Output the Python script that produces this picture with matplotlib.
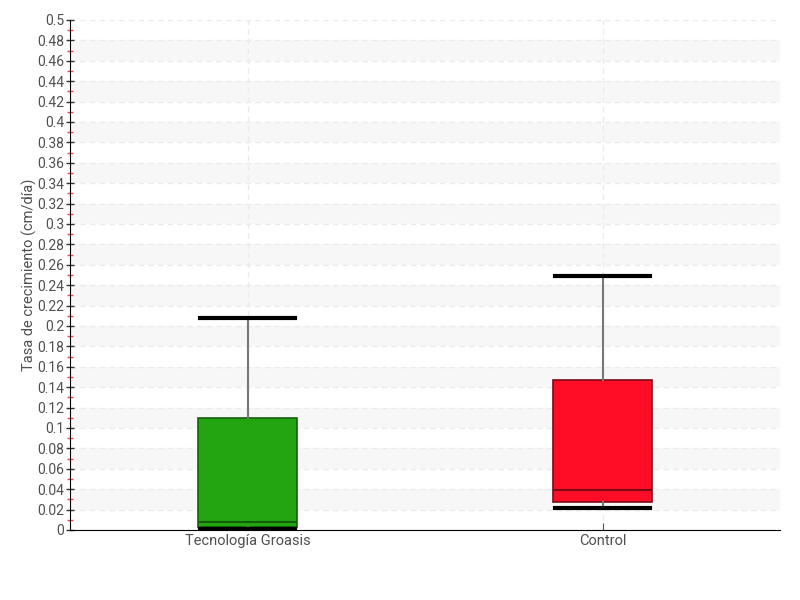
import matplotlib.pyplot as plt
from matplotlib import font_manager
from matplotlib.ticker import MultipleLocator, FuncFormatter

# datos
categorias = ['Tecnología Groasis', 'Control']
minimos = [0.001, 0.0215]
q1 = [0.003, 0.0275]
medianas = [0.008, 0.039]
q3 = [0.110, 0.147]
maximos = [0.208, 0.249]
colores = ['#22a511', '#ff0d27']
bordes = ['#14600a', '#7a0a14']

names = {f.name for f in font_manager.fontManager.ttflist}
fam = 'Liberation Sans Narrow' if 'Liberation Sans Narrow' in names else 'Roboto'
plt.rcParams['font.family'] = [fam, 'DejaVu Sans']

fig = plt.figure(figsize=(8, 6), dpi=100)
ax = fig.add_axes([0.0875, 0.1167, 0.8875, 0.85])

stats = []
for i in range(len(categorias)):
    stats.append(dict(whislo=minimos[i], q1=q1[i], med=medianas[i], q3=q3[i],
                      whishi=maximos[i], label=categorias[i], fliers=[]))

bp = ax.bxp(stats, positions=range(len(categorias)), widths=0.28,
            patch_artist=True, showfliers=False, zorder=3,
            whiskerprops=dict(color='#777777', lw=1.5),
            capprops=dict(color='black', lw=3),
            capwidths=0.27)
for i, b in enumerate(bp['boxes']):
    b.set_facecolor(colores[i])
    b.set_edgecolor(bordes[i])
    b.set_linewidth(1.2)
for i, m in enumerate(bp['medians']):
    m.set_color(bordes[i])
    m.set_linewidth(1.5)

ax.set_xlim(-0.5, 1.5)
ax.set_ylim(0, 0.5)

# franjas alternas
for k in range(1, 25, 2):
    ax.axhspan(k * 0.02, (k + 1) * 0.02, color='#f7f7f7', zorder=0, lw=0)

ax.yaxis.set_major_locator(MultipleLocator(0.02))
ax.yaxis.set_minor_locator(MultipleLocator(0.01))
ax.yaxis.set_major_formatter(FuncFormatter(lambda v, p: f'{v:.2f}'.rstrip('0').rstrip('.') if v else '0'))
ax.grid(True, which='major', axis='both', ls=(0, (4, 3)), color='#ebebeb', lw=1, zorder=1)

ax.tick_params(axis='y', which='major', direction='inout', length=6, width=1,
               color='#333333', labelsize=10, labelcolor='#505050', pad=1)
ax.tick_params(axis='y', which='minor', direction='inout', length=4, width=1, color='#ff4040')
ax.tick_params(axis='x', which='major', direction='in', length=5, color='#555555',
               labelsize=10.5, labelcolor='#505050', pad=3)

for s in ['top', 'right']:
    ax.spines[s].set_visible(False)
ax.spines['left'].set_color('black')
ax.spines['bottom'].set_color('black')

ax.set_ylabel('Tasa de crecimiento (cm/día)', fontsize=10.5, color='#505050')
ax.yaxis.set_label_coords(-0.046, 0.5)

fig.savefig('out.png', dpi=100)
